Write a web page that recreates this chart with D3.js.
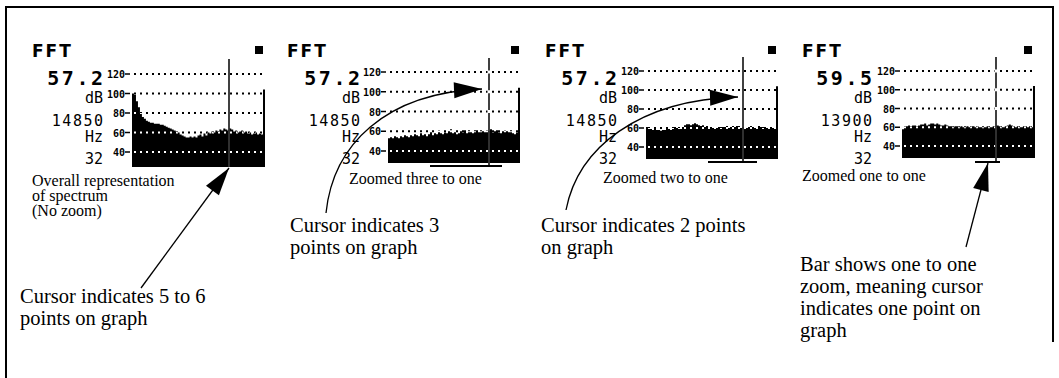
<!DOCTYPE html>
<html>
<head>
<meta charset="utf-8">
<script src="https://cdn.jsdelivr.net/npm/d3@7"></script>
<style>
  body { margin: 0; background: #fff; }
  svg { display: block; }
</style>
</head>
<body>
<div id="chart"></div>
<script>
let W = 1059
let H = 378

// spectra (dB per column, last value is the edge spike)
let spectrumNoZoom = [100, 99, 92, 86, 80, 76, 74, 72, 71, 70, 70, 69, 69, 69, 68, 68, 67, 66, 65, 64, 63, 62, 61, 60, 58, 57, 56, 55, 55, 56, 55, 56, 55, 57, 58, 56, 59, 57, 60, 59, 61, 60, 62, 61, 63, 62, 64, 63, 62, 64, 63, 61, 62, 60, 61, 62, 60, 61, 59, 60, 58, 59, 60, 58, 59, 58, 104]
let spectrumZoom3 = [53, 54, 53, 55, 54, 53, 55, 54, 56, 55, 54, 56, 55, 57, 56, 55, 58, 56, 57, 55, 57, 59, 56, 58, 57, 61, 58, 57, 59, 58, 60, 62, 58, 59, 57, 58, 60, 59, 61, 58, 60, 59, 58, 60, 61, 59, 60, 60, 59, 61, 60, 62, 59, 60, 61, 59, 58, 60, 61, 60, 59, 60, 58, 57, 59, 104]
let spectrumZoom2 = [61, 60, 59, 58, 59, 58, 58, 57, 58, 58, 59, 59, 58, 60, 61, 60, 60, 59, 61, 63, 64, 64, 63, 64, 65, 64, 63, 62, 63, 61, 62, 61, 61, 60, 61, 60, 61, 60, 61, 61, 62, 60, 61, 62, 61, 62, 62, 60, 61, 61, 60, 61, 62, 61, 60, 61, 62, 61, 60, 61, 60, 61, 61, 60, 61, 104]
let spectrumZoom1 = [58, 61, 61, 62, 61, 62, 62, 61, 62, 63, 63, 64, 62, 63, 64, 64, 63, 64, 63, 62, 62, 63, 62, 61, 61, 60, 61, 61, 60, 61, 60, 60, 61, 60, 61, 61, 60, 61, 60, 60, 60, 60, 61, 60, 60, 61, 61, 62, 61, 60, 60, 61, 62, 63, 62, 61, 60, 61, 60, 60, 61, 61, 60, 61, 60, 104]

let levelReadouts = ['57.2', '57.2', '57.2', '59.5']
let freqReadouts = ['14850', '14850', '14850', '13900']
let lowReadouts = ['32', '32', '32', '32']
let dbTicks = [120, 100, 80, 60, 40]
let zoomCaptions = [
	['Overall representation', 'of spectrum', '(No zoom)'],
	['Zoomed three to one'],
	['Zoomed two to one'],
	['Zoomed one to one']
]
let noteLines = [
	['Cursor indicates 5 to 6', 'points on graph'],
	['Cursor indicates 3', 'points on graph'],
	['Cursor indicates 2 points', 'on graph'],
	['Bar shows one to one', 'zoom, meaning cursor', 'indicates one point on', 'graph']
]

let spectra = [spectrumNoZoom, spectrumZoom3, spectrumZoom2, spectrumZoom1]

// screen layout per panel
let panels = [
	{ left: 132, right: 265, y120: 74, y40: 152, bottom: 167, cursor: 229, top: 59, fftX: 32, sq: 255, read: 103, bar: null, gaps: false, capX: 32, capY: 186 },
	{ left: 388, right: 520, y120: 72, y40: 151, bottom: 163, cursor: 489, top: 58, fftX: 287, sq: 511, read: 360, bar: [430, 502, 166], gaps: true, capX: 349, capY: 184 },
	{ left: 646, right: 778, y120: 71, y40: 147, bottom: 159, cursor: 743, top: 57, fftX: 545, sq: 768, read: 617, bar: [708, 757, 162], gaps: false, capX: 603, capY: 183 },
	{ left: 902, right: 1035, y120: 71, y40: 146, bottom: 158, cursor: 996, top: 57, fftX: 802, sq: 1024, read: 872, bar: [975, 1000, 162], gaps: true, capX: 802, capY: 181 }
]

let svg = d3.select('#chart')
	.append('svg')
	.attr('width', W)
	.attr('height', H)

let defs = svg.append('defs')
defs.append('marker')
	.attr('id', 'head')
	.attr('markerUnits', 'userSpaceOnUse')
	.attr('viewBox', '-30 -9 32 18')
	.attr('markerWidth', 32)
	.attr('markerHeight', 18)
	.attr('refX', 0)
	.attr('refY', 0)
	.attr('orient', 'auto')
	.append('path')
	.attr('d', 'M0,0 L-28,-8 L-28,8 Z')
	.attr('fill', '#000')

// frame
svg.append('path')
	.attr('d', `M6,${H} L6,7 L1053,7 L1053,342`)
	.attr('fill', 'none')
	.attr('stroke', '#000')
	.attr('stroke-width', 2)

let mono = 'DejaVu Sans Mono'

panels.forEach((p, k) => {
	let data = spectra[k]
	let g = svg.append('g')

	let x = d3.scaleLinear().domain([0, data.length]).range([p.left, p.right])
	let y = d3.scaleLinear().domain([40, 120]).range([p.y40, p.y120])

	let pts = data.map((v, i) => [i, v]).concat([[data.length, data[data.length - 1]]])
	let area = d3.area()
		.x(d => x(d[0]))
		.y0(p.bottom)
		.y1(d => y(d[1]))
		.curve(d3.curveStepAfter)

	defs.append('clipPath')
		.attr('id', `fill${k}`)
		.append('path')
		.attr('d', area(pts))

	// header
	g.append('text')
		.attr('x', p.fftX)
		.attr('y', 57)
		.attr('font-family', 'DejaVu Sans')
		.attr('font-weight', 'bold')
		.attr('font-size', 17)
		.attr('letter-spacing', 2)
		.text('FFT')
	g.append('rect')
		.attr('x', p.sq)
		.attr('y', 46)
		.attr('width', 8)
		.attr('height', 8)
		.attr('fill', '#000')

	// readouts
	g.append('text').attr('x', p.read + 2.5).attr('y', 85)
		.attr('text-anchor', 'end').attr('font-family', mono).attr('font-weight', 'bold')
		.attr('font-size', 20).attr('letter-spacing', 2.5)
		.text(levelReadouts[k])
	g.append('text').attr('x', p.read).attr('y', 103)
		.attr('text-anchor', 'end').attr('font-family', mono).attr('font-size', 15)
		.text('dB')
	g.append('text').attr('x', p.read + 1.5).attr('y', 126)
		.attr('text-anchor', 'end').attr('font-family', mono).attr('font-size', 15).attr('letter-spacing', 1.5)
		.text(freqReadouts[k])
	g.append('text').attr('x', p.read).attr('y', 142)
		.attr('text-anchor', 'end').attr('font-family', mono).attr('font-size', 15)
		.text('Hz')
	g.append('text').attr('x', p.read).attr('y', 164)
		.attr('text-anchor', 'end').attr('font-family', mono).attr('font-size', 15)
		.text(lowReadouts[k])

	// tick labels and dotted grid
	dbTicks.forEach(t => {
		g.append('text')
			.attr('x', p.left - 7)
			.attr('y', y(t) + 4)
			.attr('text-anchor', 'end')
			.attr('font-family', mono)
			.attr('font-weight', 'bold')
			.attr('font-size', 10)
			.text(t)
		g.append('line')
			.attr('x1', p.left - 7).attr('x2', p.left - 2)
			.attr('y1', y(t)).attr('y2', y(t))
			.attr('stroke', '#000').attr('stroke-width', 1.5)
		g.append('line')
			.attr('x1', p.left + 2).attr('x2', p.right)
			.attr('y1', y(t)).attr('y2', y(t))
			.attr('stroke', '#000').attr('stroke-width', 2)
			.attr('stroke-dasharray', '2,4')
	})

	// spectrum
	g.append('path')
		.attr('d', area(pts))
		.attr('fill', '#000')

	let inFill = g.append('g').attr('clip-path', `url(#fill${k})`)
	dbTicks.forEach(t => {
		inFill.append('line')
			.attr('x1', p.left + 2).attr('x2', p.right)
			.attr('y1', y(t)).attr('y2', y(t))
			.attr('stroke', '#fff').attr('stroke-width', 2)
			.attr('stroke-dasharray', '2,4')
	})

	// cursor
	let cursorBottom = p.bar ? p.bar[2] : p.bottom
	g.append('line')
		.attr('x1', p.cursor).attr('x2', p.cursor)
		.attr('y1', p.top).attr('y2', cursorBottom)
		.attr('stroke', '#000').attr('stroke-width', 1.5)
	inFill.append('line')
		.attr('x1', p.cursor).attr('x2', p.cursor)
		.attr('y1', p.top).attr('y2', p.bottom)
		.attr('stroke', '#fff').attr('stroke-width', 1.5)
	if (p.gaps) {
		dbTicks.slice(0, 3).forEach(t => {
			g.append('rect')
				.attr('x', p.cursor - 1.5).attr('y', y(t) - 1.5)
				.attr('width', 3).attr('height', 3)
				.attr('fill', '#fff')
		})
	}

	// zoom bar
	if (p.bar) {
		g.append('line')
			.attr('x1', p.bar[0]).attr('x2', p.bar[1])
			.attr('y1', p.bar[2]).attr('y2', p.bar[2])
			.attr('stroke', '#000').attr('stroke-width', 2)
	}

	// caption under the screen
	zoomCaptions[k].forEach((s, i) => {
		g.append('text')
			.attr('x', p.capX)
			.attr('y', p.capY + i * 15)
			.attr('font-family', 'Liberation Serif')
			.attr('font-size', 16)
			.text(s)
	})
})

// explanatory notes
let notePos = [[20, 303], [290, 232], [541, 232], [800, 271]]
noteLines.forEach((lines, k) => {
	lines.forEach((s, i) => {
		svg.append('text')
			.attr('x', notePos[k][0])
			.attr('y', notePos[k][1] + i * 22)
			.attr('font-family', 'Liberation Serif')
			.attr('font-size', 20.5)
			.text(s)
	})
})

// arrows
let arrows = [
	'M141,288 L229,168',
	'M326,213 C333,145 385,93 482,89',
	'M566,210 C578,148 638,100 738,97',
	'M966,247 L988,163'
]
svg.selectAll('path.arrow')
	.data(arrows)
	.join('path')
	.attr('class', 'arrow')
	.attr('d', d => d)
	.attr('fill', 'none')
	.attr('stroke', '#000')
	.attr('stroke-width', 1.3)
	.attr('marker-end', 'url(#head)')
</script>
</body>
</html>
